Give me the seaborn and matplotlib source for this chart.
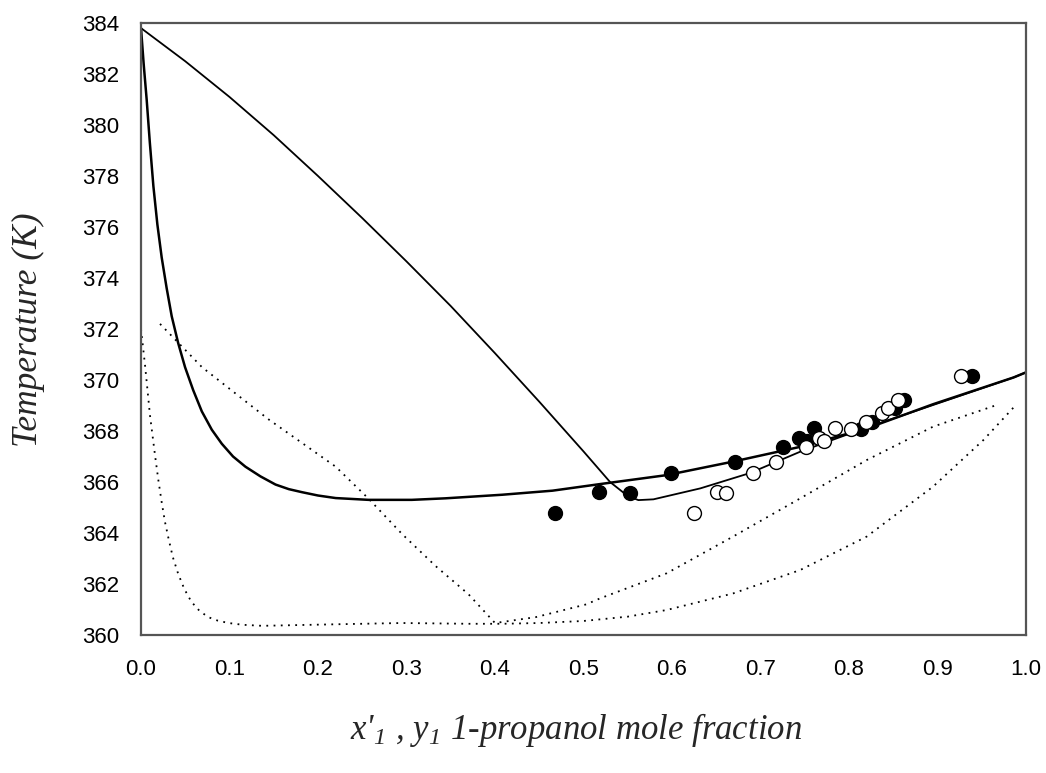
import numpy as np
import pandas as pd
import matplotlib
matplotlib.use("Agg")
import matplotlib.pyplot as plt
import seaborn as sns

# Solid curve A (upper near-straight line, kinked near x=0.56)
a_x = [0.0, 0.05, 0.1, 0.15, 0.2, 0.25, 0.3, 0.35, 0.4, 0.45, 0.5, 0.53, 0.55, 0.562, 0.579, 0.632, 0.688, 0.745, 0.812, 0.895, 0.986, 1.0]
a_t = [383.8, 382.5, 381.1, 379.6, 378.0, 376.35, 374.65, 372.9, 371.05, 369.15, 367.2, 366.0, 365.45, 365.29, 365.32, 365.75, 366.35, 367.19, 368.04, 369.02, 370.1, 370.3]

# Solid curve B (steep drop then gently rising)
b_x = [0.0, 0.003, 0.0064, 0.01, 0.014, 0.0185, 0.0234, 0.029, 0.0347, 0.042, 0.0498, 0.059, 0.0687, 0.08, 0.0913, 0.104, 0.118, 0.135, 0.152, 0.167, 0.182, 0.2, 0.22, 0.257, 0.306, 0.344, 0.408, 0.465, 0.519, 0.594, 0.669, 0.745, 0.82, 0.895, 0.986, 1.0]
b_t = [383.8, 382.4, 381.0, 379.3, 377.6, 376.1, 374.8, 373.6, 372.5, 371.45, 370.5, 369.6, 368.77, 368.05, 367.5, 367.0, 366.6, 366.22, 365.9, 365.72, 365.6, 365.47, 365.37, 365.3, 365.3, 365.36, 365.5, 365.66, 365.92, 366.27, 366.8, 367.38, 368.1, 369.05, 370.1, 370.3]

# Dotted curve C (lower)
c_x = [0.0, 0.0045, 0.0102, 0.0158, 0.0195, 0.0234, 0.027, 0.031, 0.036, 0.042, 0.049, 0.057, 0.066, 0.076, 0.087, 0.099, 0.115, 0.137, 0.22, 0.295, 0.37, 0.408, 0.45, 0.5, 0.55, 0.594, 0.669, 0.745, 0.82, 0.895, 0.952, 0.988]
c_t = [372.0, 370.6, 368.6, 367.06, 366.1, 365.2, 364.45, 363.8, 363.05, 362.4, 361.8, 361.3, 360.95, 360.7, 360.56, 360.47, 360.4, 360.36, 360.42, 360.47, 360.44, 360.44, 360.47, 360.55, 360.72, 360.98, 361.63, 362.55, 363.86, 365.82, 367.65, 369.0]

# Dotted curve D (V-shaped)
d_x = [0.0215, 0.069, 0.144, 0.22, 0.257, 0.295, 0.333, 0.37, 0.40, 0.446, 0.503, 0.519, 0.594, 0.669, 0.745, 0.82, 0.895, 0.967]
d_t = [372.2, 370.5, 368.46, 366.6, 365.35, 363.96, 362.7, 361.6, 360.47, 360.7, 361.2, 361.44, 362.42, 363.86, 365.36, 366.86, 368.17, 369.02]

# Experimental points
filled_x = [0.468, 0.517, 0.553, 0.599, 0.671, 0.725, 0.743, 0.753, 0.760, 0.814, 0.826, 0.852, 0.862, 0.939]
filled_t = [364.8, 365.6, 365.56, 366.34, 366.8, 367.36, 367.71, 367.62, 368.1, 368.06, 368.37, 368.89, 369.2, 370.16]
open_x = [0.625, 0.651, 0.661, 0.691, 0.718, 0.751, 0.766, 0.772, 0.784, 0.802, 0.819, 0.837, 0.844, 0.855, 0.926]
open_t = [364.8, 365.6, 365.56, 366.34, 366.8, 367.36, 367.71, 367.62, 368.1, 368.06, 368.37, 368.69, 368.89, 369.2, 370.16]

xticks = [0.0, 0.1, 0.2, 0.3, 0.4, 0.5, 0.6, 0.7, 0.8, 0.9, 1.0]
yticks = [360, 362, 364, 366, 368, 370, 372, 374, 376, 378, 380, 382, 384]

sns.set_style("white")
plt.rcParams["font.family"] = ["Liberation Sans", "DejaVu Sans"]
plt.rcParams["mathtext.fontset"] = "custom"
plt.rcParams["mathtext.it"] = "Liberation Serif:italic"
plt.rcParams["mathtext.rm"] = "Liberation Serif:italic"

fig = plt.figure(figsize=(10.46, 7.73), dpi=100)
ax = fig.add_axes([141/1046, 1-635/773, 885/1046, 612/773])

dots = (0, (1, 3))
sns.lineplot(x=a_x, y=a_t, ax=ax, sort=False, estimator=None, color="black", lw=1.3)
sns.lineplot(x=b_x, y=b_t, ax=ax, sort=False, estimator=None, color="black", lw=1.8)
sns.lineplot(x=c_x, y=c_t, ax=ax, sort=False, estimator=None, color="black", lw=1.3, linestyle=dots)
sns.lineplot(x=d_x, y=d_t, ax=ax, sort=False, estimator=None, color="black", lw=1.3, linestyle=dots)

sns.scatterplot(x=filled_x, y=filled_t, ax=ax, s=100, color="black", edgecolor="black", linewidth=1, zorder=3)
sns.scatterplot(x=open_x, y=open_t, ax=ax, s=100, color="white", edgecolor="black", linewidth=1, zorder=4)

ax.set_xlim(0, 1)
ax.set_ylim(360, 384)
ax.set_xticks(xticks)
ax.set_xticklabels([f"{v:.1f}" for v in xticks])
ax.set_yticks(yticks)
ax.set_yticklabels([str(v) for v in yticks])
ax.tick_params(axis="both", direction="out", length=7, width=1.2, color="#444444", labelsize=16, labelcolor="black")
ax.tick_params(axis="x", pad=10)
ax.tick_params(axis="y", pad=9)
for s in ax.spines.values():
    s.set_color("#555555")
    s.set_linewidth(1.6)

ax.set_xlabel("")
ax.set_ylabel("")
fig.text(576/1046, 1-730/773, r"x'$_{1}$ , y$_{1}$ 1-propanol mole fraction",
         ha="center", va="center", fontsize=25, family="Liberation Serif", style="italic")
fig.text(28/1046, 1-330/773, "Temperature (K)", rotation=90,
         ha="center", va="center", fontsize=25.5, family="Liberation Serif", style="italic")

fig.savefig("out.png", dpi=100)
